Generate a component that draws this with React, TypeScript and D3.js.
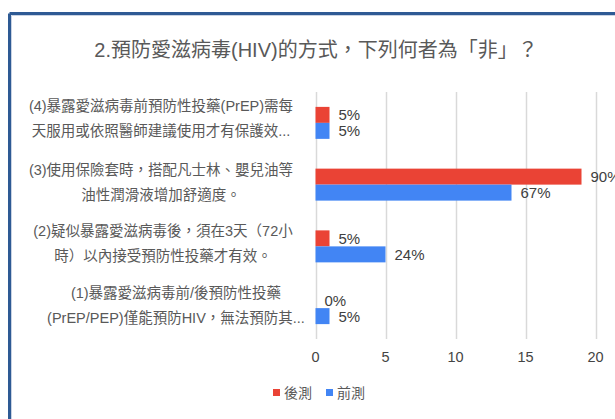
import React from "react";
import * as d3 from "d3";

const title = "2.預防愛滋病毒(HIV)的方式，下列何者為「非」？";
const categories = ["q4", "q3", "q2", "q1"];
const categoryLines = [
  ["(4)暴露愛滋病毒前預防性投藥(PrEP)需每", "天服用或依照醫師建議使用才有保護效..."],
  ["(3)使用保險套時，搭配凡士林、嬰兒油等", "油性潤滑液增加舒適度。"],
  ["(2)疑似暴露愛滋病毒後，須在3天（72小", "時）以內接受預防性投藥才有效。"],
  ["(1)暴露愛滋病毒前/後預防性投藥", "(PrEP/PEP)僅能預防HIV，無法預防其..."],
];
const seriesNames = ["後測", "前測"];
const postValues = [1, 19, 1, 0];
const preValues = [1, 14, 5, 1];
const postLabels = ["5%", "90%", "5%", "0%"];
const preLabels = ["5%", "67%", "24%", "5%"];
const xTicks = [0, 5, 10, 15, 20];
const colors = ["#EA4335", "#4285F4"];

const FONT = "'Liberation Sans', Arial, 'Noto Sans CJK TC', sans-serif";

export default function App() {
  const W = 615, H = 419;
  const x = d3.scaleLinear().domain([0, 20]).range([315.5, 595.5]);
  const y = d3.scaleBand<string>().domain(categories).range([92, 339]).paddingInner(0.482).paddingOuter(0.241);
  const ys = d3.scaleBand<number>().domain([0, 1]).range([0, y.bandwidth()]);
  const series = [postValues, preValues];
  const seriesLabels = [postLabels, preLabels];
  const labelCenterX = [161, 161, 163, 176];
  const labelShift = [-2, 0, 0, 0];

  return (
    <svg width={W} height={H} style={{ position: "absolute", left: 0, top: 0, background: "#fff" }} fontFamily={FONT}>
      <rect x={0} y={0} width={W} height={H} fill="#fff" />
      {/* frame */}
      <line x1={9.5} y1={13.5} x2={W} y2={13.5} stroke="#2E5A94" strokeWidth={3} />
      <line x1={9.5} y1={13.5} x2={9.5} y2={H} stroke="#2E5A94" strokeWidth={3} />
      <line x1={11.5} y1={15.5} x2={W} y2={15.5} stroke="#c9d3e3" strokeWidth={1} />
      <line x1={11.5} y1={15.5} x2={11.5} y2={H} stroke="#c9d3e3" strokeWidth={1} />

      <text x={316} y={57} textAnchor="middle" fontSize={20} fill="#595959">{title}</text>

      {/* gridlines */}
      {xTicks.map((t) => (
        <line key={t} x1={Math.round(x(t)) + 0.5} x2={Math.round(x(t)) + 0.5} y1={92} y2={339} stroke="#d9d9d9" strokeWidth={1.5} />
      ))}
      {xTicks.map((t) => (
        <text key={"t" + t} x={x(t)} y={362} textAnchor="middle" fontSize={14.5} fill="#444">{t}</text>
      ))}

      {/* bars */}
      {categories.map((c, i) => (
        <g key={c} transform={`translate(0,${y(c)})`}>
          {series.map((vals, s) => (
            <g key={s}>
              <rect x={x(0)} y={ys(s)} width={x(vals[i]) - x(0)} height={ys.bandwidth()} fill={colors[s]} />
              <text x={x(vals[i]) + 9} y={(ys(s) as number) + ys.bandwidth() / 2 + 5.5} fontSize={15} fill="#404040">{seriesLabels[s][i]}</text>
            </g>
          ))}
        </g>
      ))}

      {/* category labels */}
      {categories.map((c, i) => {
        const cy = (y(c) as number) + y.bandwidth() / 2;
        return (
          <g key={"l" + c}>
            {categoryLines[i].map((ln, j) => (
              <text key={j} x={labelCenterX[i]} y={cy - 15 + labelShift[i] + j * 25 + 5} textAnchor="middle" fontSize={14.5} fill="#595959">{ln}</text>
            ))}
          </g>
        );
      })}

      {/* legend */}
      {seriesNames.map((n, s) => (
        <g key={n} transform={`translate(${273 + s * 53},389)`}>
          <rect x={0} y={0} width={7} height={7} fill={colors[s]} />
          <text x={11} y={9} fontSize={14} fill="#595959">{n}</text>
        </g>
      ))}
    </svg>
  );
}
